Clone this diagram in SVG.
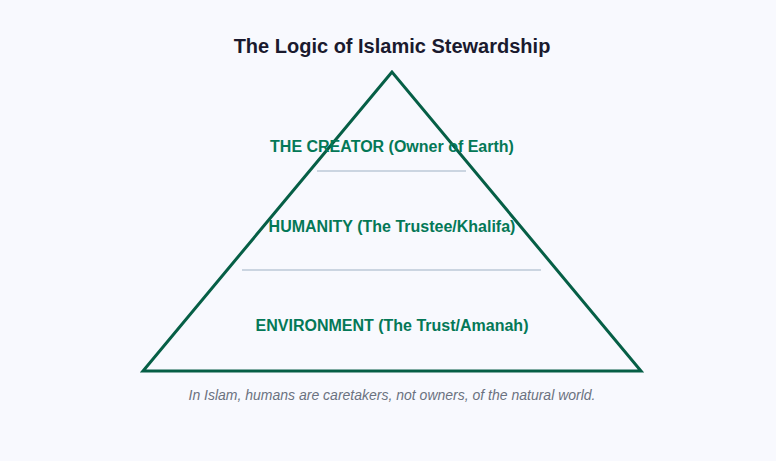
<svg xmlns="http://www.w3.org/2000/svg" width="776" height="461" viewBox="0 0 776 461">
<style>
.title{font-family:"Liberation Sans",Arial,sans-serif;font-size:20px;font-weight:bold;fill:#1a1a2e;text-anchor:middle}
.lbl{font-family:"Liberation Sans",Arial,sans-serif;font-size:16px;font-weight:bold;fill:#047857;text-anchor:middle}
.cap{font-family:"Liberation Sans",Arial,sans-serif;font-size:14px;font-style:italic;fill:#6b7280;text-anchor:middle}
.div{stroke:#cbd5e1;stroke-width:2}
</style>
<rect width="776" height="461" fill="#f8f9fe"/>
<text class="title" x="392" y="53">The Logic of Islamic Stewardship</text>
<g id="dividers">
<line class="div" x1="317" y1="171" x2="466" y2="171"/>
<line class="div" x1="242" y1="270" x2="541" y2="270"/>
</g>
<g id="pyramid">
<polygon points="392,72 143,371 641,371" fill="none" stroke="#065f46" stroke-width="3"/>
</g>
<g id="creator"><text class="lbl" x="392" y="152">THE CREATOR (Owner of Earth)</text></g>
<g id="humanity"><text class="lbl" x="392" y="232">HUMANITY (The Trustee/Khalifa)</text></g>
<g id="environment"><text class="lbl" x="392" y="331">ENVIRONMENT (The Trust/Amanah)</text></g>
<text class="cap" x="392" y="400">In Islam, humans are caretakers, not owners, of the natural world.</text>
</svg>
